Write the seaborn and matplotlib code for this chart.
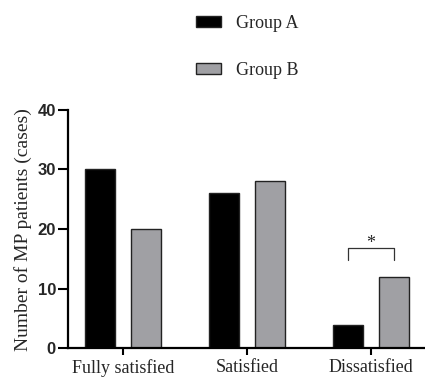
import matplotlib
matplotlib.use('Agg')
import matplotlib.pyplot as plt
import seaborn as sns
import pandas as pd

categories = ['Fully satisfied', 'Satisfied', 'Dissatisfied']
groups = ['Group A', 'Group B']
group_a = [30, 26, 4]
group_b = [20, 28, 12]
yticks = [0, 10, 20, 30, 40]
ylabel = 'Number of MP patients (cases)'
sig_label = '*'
colors = ['#000000', '#A0A0A4']

df = pd.DataFrame({
    'category': categories * 2,
    'group': [groups[0]] * len(categories) + [groups[1]] * len(categories),
    'value': group_a + group_b,
})

sns.set_theme(style='ticks')
plt.rcParams['font.family'] = ['Liberation Serif', 'DejaVu Serif']

fig = plt.figure(figsize=(4.25, 3.77), dpi=100)
ax = fig.add_axes([0.161, 0.0759, 0.839, 0.633])
sns.barplot(data=df, x='category', y='value', hue='group', order=categories,
            hue_order=groups, palette=colors, width=0.745, gap=0.35,
            edgecolor='#222222', linewidth=1, errorbar=None, saturation=1, ax=ax)

handles, labels = ax.get_legend_handles_labels()
if ax.get_legend() is not None:
    ax.get_legend().remove()
fig.legend(handles, labels, loc='upper left', bbox_to_anchor=(0.423, 1.003),
           frameon=False, prop={'family': 'Liberation Serif', 'size': 13},
           handlelength=1.39, handleheight=0.55, handletextpad=0.8,
           labelspacing=1.66, borderpad=0.4)

ax.set_xlim(-0.443, 2.44)
ax.set_ylim(0, 40)
ax.set_yticks(yticks)
ax.set_xlabel('')
ax.set_ylabel(ylabel, fontsize=14, family='Liberation Serif', labelpad=4)
sns.despine(ax=ax)
for s in ['left', 'bottom']:
    ax.spines[s].set_linewidth(1.6)
    ax.spines[s].set_color('black')
ax.tick_params(axis='y', length=7, width=1.5, pad=2, color='black')
ax.tick_params(axis='x', length=5, width=1.5, pad=3, color='black')
for lab in ax.get_yticklabels():
    lab.set_fontfamily('Liberation Sans')
    lab.set_fontweight('bold')
    lab.set_fontsize(12)
for lab in ax.get_xticklabels():
    lab.set_fontfamily('Liberation Serif')
    lab.set_fontsize(13)

# significance bracket between the two Dissatisfied bars
ba = ax.containers[0][2]
bb = ax.containers[1][2]
xa = ba.get_x() + ba.get_width() / 2
xb = bb.get_x() + bb.get_width() / 2
ax.plot([xa, xa, xb, xb], [14.8, 16.8, 16.8, 14.8], color='#333333', lw=0.9,
        clip_on=False)
ax.text((xa + xb) / 2, 16.8, sig_label, ha='center', va='baseline', fontsize=13,
        family='Liberation Serif')

fig.savefig('out.png', dpi=100)
